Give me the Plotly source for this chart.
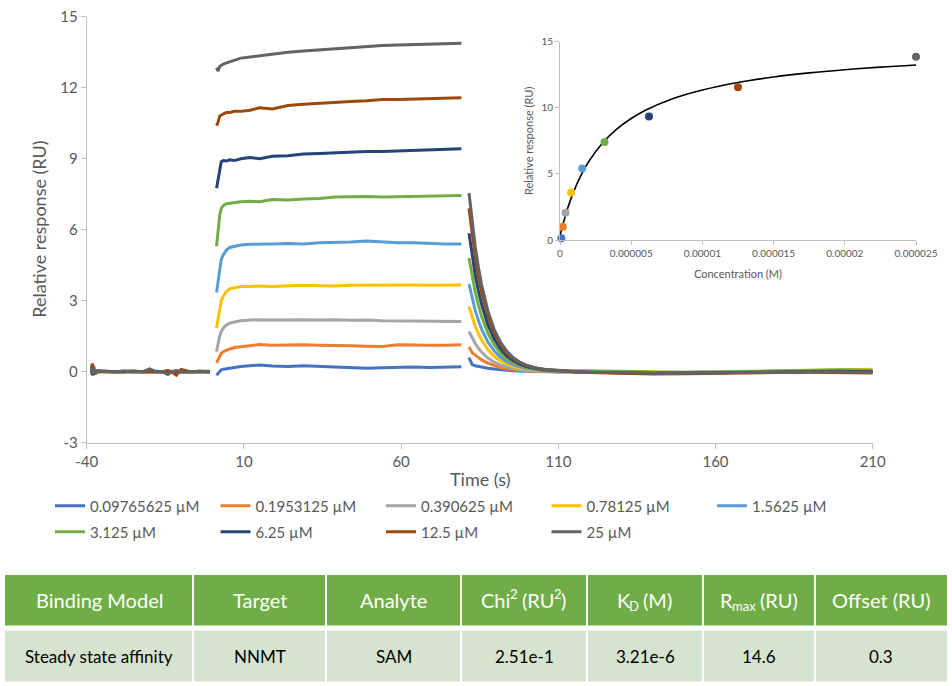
import plotly.graph_objects as go

# ---------------- data ----------------
series_names = ["0.09765625 µM", "0.1953125 µM", "0.390625 µM", "0.78125 µM", "1.5625 µM",
                "3.125 µM", "6.25 µM", "12.5 µM", "25 µM"]
series_colors = ["#4472C4", "#ED7D31", "#A5A5A5", "#FFC000", "#5B9BD5",
                 "#70AD47", "#264478", "#9E480E", "#636363"]

# time samples (s)
t_base = [-38.5, -38.2, -37.8, -37.3, -36.5, -34, -31, -28, -25, -22,
          -20, -18, -16, -14.2, -13, -11.5, -10, -7, -4, -0.9]
t_assoc = [1.3, 1.8, 2.3, 2.8, 3.5, 4.5, 5.5, 7, 9, 12, 15, 19, 24, 29, 34,
           39, 44, 49, 54, 59, 64, 69, 74, 79.2]
t_dissoc = [81.6, 82.6, 83.6, 84.6, 85.6, 87.6, 89.6, 91.6, 93.6, 95.6, 97.6,
            99.6, 102.6, 105.6, 109.6, 115, 120, 130, 140, 150, 160, 170, 180,
            190, 200, 210]
time_ticks = [-40, 10, 60, 110, 160, 210]
time_ticktext = ["-40", "10", "60", "110", "160", "210"]
resp_ticks = [-3, 0, 3, 6, 9, 12, 15]
resp_ticktext = ["-3", "0", "3", "6", "9", "12", "15"]

# responses (RU)
base_0098 = [0.05, 0.2, -0.1, 0.05, 0.0, 0.02, 0.0, 0.03, 0.02, 0.0, 0.05, 0.02, 0.0, 0.03, 0.0, 0.02, 0.0, 0.0, 0.02, 0.0]
base_0195 = [0.0, 0.15, -0.15, 0.05, 0.0, 0.0, 0.02, 0.0, 0.0, 0.02, 0.0, 0.0, 0.02, 0.0, 0.0, 0.0, 0.02, 0.0, 0.0, 0.0]
base_0391 = [0.1, -0.1, 0.15, 0.0, 0.02, 0.0, 0.0, 0.02, 0.0, 0.0, 0.02, 0.0, 0.0, -0.05, 0.02, 0.0, 0.0, 0.0, 0.02, 0.0]
base_0781 = [-0.05, 0.1, -0.1, 0.05, 0.0, 0.0, 0.03, 0.0, 0.0, 0.0, 0.0, 0.03, 0.0, 0.0, 0.02, 0.0, 0.0, 0.02, 0.0, 0.0]
base_1563 = [0.1, 0.25, -0.05, 0.0, 0.05, 0.02, 0.0, 0.0, 0.03, 0.0, 0.08, 0.0, 0.0, 0.0, 0.02, 0.0, 0.02, 0.0, 0.0, 0.0]
base_3125 = [0.0, 0.1, -0.1, 0.02, 0.0, 0.0, 0.0, 0.02, 0.0, 0.0, 0.0, 0.0, 0.02, 0.0, 0.0, 0.02, 0.0, 0.0, 0.0, 0.0]
base_6250 = [0.05, -0.15, 0.1, 0.0, 0.02, 0.0, 0.0, 0.0, 0.02, 0.0, 0.0, 0.02, 0.0, 0.0, 0.0, 0.0, 0.02, 0.0, 0.0, 0.0]
base_12500 = [0.15, 0.35, 0.05, -0.05, 0.0, 0.02, 0.0, 0.0, 0.0, 0.02, 0.0, 0.0, 0.0, 0.05, 0.0, -0.15, 0.1, 0.0, 0.02, 0.0]
base_25000 = [0.2, -0.1, 0.25, -0.1, 0.05, 0.0, 0.0, 0.02, 0.0, 0.0, 0.12, 0.0, 0.0, -0.12, 0.0, 0.05, 0.0, 0.0, 0.0, 0.02]

assoc_0098 = [-0.15, -0.08, 0.03, 0.08, 0.1, 0.13, 0.15, 0.18, 0.22, 0.25, 0.28, 0.24, 0.22, 0.25, 0.22, 0.2, 0.18, 0.15, 0.17, 0.2, 0.2, 0.18, 0.2, 0.21]
assoc_0195 = [0.37, 0.5, 0.65, 0.78, 0.85, 0.92, 0.96, 1.02, 1.05, 1.1, 1.15, 1.12, 1.14, 1.14, 1.12, 1.12, 1.1, 1.08, 1.06, 1.14, 1.12, 1.12, 1.12, 1.14]
assoc_0391 = [0.85, 1.2, 1.5, 1.7, 1.85, 1.98, 2.05, 2.1, 2.15, 2.18, 2.2, 2.18, 2.2, 2.2, 2.18, 2.2, 2.17, 2.18, 2.15, 2.15, 2.15, 2.12, 2.12, 2.12]
assoc_0781 = [1.85, 2.3, 2.7, 3.0, 3.2, 3.4, 3.5, 3.55, 3.6, 3.6, 3.62, 3.6, 3.62, 3.65, 3.63, 3.62, 3.65, 3.66, 3.64, 3.65, 3.66, 3.65, 3.66, 3.66]
assoc_1563 = [3.35, 3.9, 4.4, 4.75, 4.95, 5.15, 5.25, 5.3, 5.35, 5.38, 5.4, 5.4, 5.42, 5.4, 5.45, 5.45, 5.48, 5.52, 5.48, 5.45, 5.45, 5.42, 5.4, 5.4]
assoc_3125 = [5.3, 6.0, 6.6, 6.9, 7.03, 7.1, 7.12, 7.15, 7.18, 7.2, 7.18, 7.28, 7.25, 7.3, 7.32, 7.38, 7.4, 7.4, 7.38, 7.4, 7.42, 7.42, 7.45, 7.45]
assoc_6250 = [7.75, 8.1, 8.6, 8.87, 8.92, 8.9, 8.95, 8.92, 9.0, 9.05, 9.0, 9.1, 9.12, 9.2, 9.22, 9.25, 9.28, 9.3, 9.3, 9.32, 9.35, 9.35, 9.38, 9.42]
assoc_12500 = [10.4, 10.55, 10.8, 10.85, 10.9, 10.95, 10.95, 11.0, 11.0, 11.05, 11.15, 11.1, 11.25, 11.3, 11.35, 11.4, 11.42, 11.45, 11.5, 11.5, 11.52, 11.55, 11.55, 11.58]
assoc_25000 = [12.85, 12.7, 12.9, 12.95, 13.0, 13.05, 13.1, 13.15, 13.25, 13.3, 13.35, 13.4, 13.5, 13.55, 13.6, 13.65, 13.7, 13.75, 13.78, 13.8, 13.82, 13.85, 13.85, 13.88]

dissoc_0098 = [0.6, 0.3, 0.25, 0.22, 0.19, 0.15, 0.11, 0.08, 0.06, 0.04, 0.03, 0.02, 0.01, 0.0, -0.01,
               -0.01, -0.02, -0.05, -0.06, -0.05, -0.03, -0.02, -0.02, 0.0, 0.0, -0.02]
dissoc_0195 = [1.05, 0.8, 0.7, 0.58, 0.5, 0.36, 0.25, 0.17, 0.12, 0.08, 0.06, 0.04, 0.02, 0.01, 0.0,
               0.0, -0.02, -0.04, -0.06, -0.05, -0.03, -0.02, 0.0, 0.02, 0.02, 0.0]
dissoc_0391 = [1.7, 1.42, 1.19, 0.99, 0.83, 0.58, 0.4, 0.28, 0.2, 0.14, 0.09, 0.06, 0.04, 0.03, 0.02,
               0.02, 0.0, -0.03, -0.05, -0.04, -0.02, 0.0, 0.0, 0.02, 0.03, 0.02]
dissoc_0781 = [2.75, 2.3, 1.92, 1.6, 1.34, 0.94, 0.65, 0.45, 0.32, 0.22, 0.15, 0.11, 0.07, 0.05, 0.04,
               0.05, 0.05, 0.04, 0.0, -0.02, 0.0, 0.03, 0.05, 0.06, 0.1, 0.1]
dissoc_1563 = [3.7, 3.09, 2.58, 2.16, 1.8, 1.26, 0.88, 0.61, 0.43, 0.3, 0.21, 0.14, 0.09, 0.05, 0.03,
               0.03, 0.02, 0.0, -0.03, -0.03, -0.01, 0.0, 0.02, 0.03, 0.05, 0.04]
dissoc_3125 = [4.8, 4.01, 3.35, 2.8, 2.34, 1.63, 1.14, 0.79, 0.55, 0.38, 0.27, 0.19, 0.11, 0.06, 0.03,
               0.02, 0.0, -0.02, -0.04, -0.03, -0.02, 0.0, 0.03, 0.05, 0.08, 0.06]
dissoc_6250 = [5.85, 4.88, 4.08, 3.41, 2.85, 1.99, 1.39, 0.97, 0.67, 0.47, 0.33, 0.23, 0.13, 0.08, 0.04,
               0.0, -0.02, -0.05, -0.07, -0.06, -0.04, -0.02, -0.01, 0.0, 0.02, 0.0]
dissoc_12500 = [6.9, 5.76, 4.82, 4.02, 3.36, 2.35, 1.64, 1.14, 0.79, 0.55, 0.39, 0.27, 0.16, 0.09, 0.04,
                0.0, -0.03, -0.07, -0.1, -0.09, -0.06, -0.04, -0.03, -0.02, -0.02, -0.05]
dissoc_25000 = [7.55, 6.3, 5.27, 4.4, 3.68, 2.57, 1.79, 1.25, 0.87, 0.6, 0.42, 0.29, 0.17, 0.1, 0.05,
                0.01, -0.02, -0.05, -0.07, -0.06, -0.04, -0.02, -0.02, -0.01, 0.0, -0.02]

base_all = [base_0098, base_0195, base_0391, base_0781, base_1563, base_3125, base_6250, base_12500, base_25000]
assoc_all = [assoc_0098, assoc_0195, assoc_0391, assoc_0781, assoc_1563, assoc_3125, assoc_6250, assoc_12500, assoc_25000]
dissoc_all = [dissoc_0098, dissoc_0195, dissoc_0391, dissoc_0781, dissoc_1563, dissoc_3125, dissoc_6250, dissoc_12500, dissoc_25000]

# steady-state affinity inset
conc_uM = [0.09765625, 0.1953125, 0.390625, 0.78125, 1.5625, 3.125, 6.25, 12.5, 25]
steady_resp = [0.13, 1.0, 2.07, 3.6, 5.4, 7.41, 9.35, 11.55, 13.86]
fit_conc_uM = [0, 0.1, 0.25, 0.5, 1, 1.5, 2, 3, 4, 5, 6, 8, 10, 12.5, 15, 17.5, 20, 22.5, 25]
fit_resp = [0.30, 0.74, 1.35, 2.27, 3.77, 4.95, 5.90, 7.35, 8.40, 9.19, 9.81, 10.72, 11.35,
            11.92, 12.33, 12.64, 12.88, 13.08, 13.24]
inset_xticks = [0, 5e-6, 1e-5, 1.5e-5, 2e-5, 2.5e-5]
inset_xticktext = ["0", "0.000005", "0.00001", "0.000015", "0.00002", "0.000025"]

# table: each header is a list of (text, kind) pieces, kind n = normal, sub, sup
table_header = [
    [("Binding Model", "n")],
    [("Target", "n")],
    [("Analyte", "n")],
    [("Chi", "n"), ("2", "sup"), ("(RU", "n"), ("2", "sup"), (")", "n")],
    [("K", "n"), ("D", "sub"), ("(M)", "n")],
    [("R", "n"), ("max", "sub"), ("(RU)", "n")],
    [("Offset (RU)", "n")],
]
table_row = ["Steady state affinity", "NNMT", "SAM", "2.51e-1", "3.21e-6", "14.6", "0.3"]

# ---------------- figure ----------------
W, H = 952, 686
FONT = "Lato, 'Open Sans', sans-serif"
GREY = "#595959"
AXIS = "#BFBFBF"

def px(xp):
    return xp / W

def py(yp):
    return 1 - yp / H

fig = go.Figure()

for i, name in enumerate(series_names):
    xs = t_base + [None] + t_assoc + [None] + t_dissoc
    ys = base_all[i] + [None] + assoc_all[i] + [None] + dissoc_all[i]
    fig.add_trace(go.Scatter(
        x=xs, y=ys, mode="lines", name=name,
        line=dict(color=series_colors[i], width=3),
        connectgaps=False,
        legend="legend" if i < 5 else "legend2",
        xaxis="x", yaxis="y"))

fig.add_trace(go.Scatter(
    x=[c * 1e-6 for c in fit_conc_uM], y=fit_resp, mode="lines",
    line=dict(color="black", width=1.6, shape="spline"),
    showlegend=False, xaxis="x2", yaxis="y2", cliponaxis=False))
fig.add_trace(go.Scatter(
    x=[c * 1e-6 for c in conc_uM], y=steady_resp, mode="markers",
    marker=dict(color=series_colors, size=8),
    showlegend=False, xaxis="x2", yaxis="y2", cliponaxis=False))

axis_common = dict(showgrid=False, zeroline=False, showline=True, linecolor=AXIS,
                   linewidth=1, ticks="outside", tickcolor=AXIS, automargin=False)

legend_common = dict(orientation="h", x=px(50), xanchor="left", yanchor="middle",
                     entrywidth=120.5, entrywidthmode="pixels", bgcolor="rgba(0,0,0,0)",
                     font=dict(size=15, color=GREY, family=FONT), traceorder="normal")

fig.update_layout(
    width=W, height=H, template="none",
    margin=dict(l=0, r=0, t=0, b=0),
    paper_bgcolor="white", plot_bgcolor="rgba(0,0,0,0)",
    font=dict(family=FONT, color=GREY),
    xaxis=dict(domain=[px(86.7), px(872.7)], range=[-40, 210],
               tickvals=time_ticks, ticktext=time_ticktext, ticklen=5,
               tickfont=dict(size=15, color=GREY), anchor="y", **axis_common),
    yaxis=dict(domain=[py(442.7), py(16.7)], range=[-3, 15],
               tickvals=resp_ticks, ticktext=resp_ticktext, ticklen=5,
               tickfont=dict(size=15, color=GREY), anchor="x", **axis_common),
    xaxis2=dict(domain=[px(560), px(916)], range=[0, 2.5e-5],
                tickvals=inset_xticks, ticktext=inset_xticktext, ticklen=4,
                tickfont=dict(size=10, color=GREY), anchor="y2", **axis_common),
    yaxis2=dict(domain=[py(240), py(41.7)], range=[0, 15],
                tickvals=[0, 5, 10, 15], ticklen=4,
                tickfont=dict(size=10, color=GREY), anchor="x2", **axis_common),
    legend=dict(y=py(506), **legend_common),
    legend2=dict(y=py(532), **legend_common),
    showlegend=True,
)

annotations = [
    dict(text="Time (s)", x=px(480), y=py(479), xref="paper", yref="paper",
         showarrow=False, font=dict(size=18, color=GREY, family=FONT),
         xanchor="center", yanchor="middle"),
    dict(text="Relative response (RU)", x=px(39), y=py(229.7), xref="paper", yref="paper",
         showarrow=False, textangle=-90, font=dict(size=18, color=GREY, family=FONT),
         xanchor="center", yanchor="middle"),
    dict(text="Concentration (M)", x=px(738), y=py(274), xref="paper", yref="paper",
         showarrow=False, font=dict(size=11, color=GREY, family=FONT),
         xanchor="center", yanchor="middle"),
    dict(text="Relative response (RU)", x=px(528), y=py(141), xref="paper", yref="paper",
         showarrow=False, textangle=-90, font=dict(size=11, color=GREY, family=FONT),
         xanchor="center", yanchor="middle"),
]

# approximate Lato advance widths (em) for the split header pieces
glyph_em = {"K": 0.62, "D": 0.73, "R": 0.60, "m": 0.86, "a": 0.50, "x": 0.49,
            "(": 0.30, ")": 0.30, "M": 0.90, "U": 0.70, " ": 0.19, "C": 0.66,
            "h": 0.56, "i": 0.23, "2": 0.58}

def text_w(s, size):
    return sum(glyph_em.get(ch, 0.55) for ch in s) * size

HEAD_SIZE, SMALL_SIZE, BODY_SIZE = 20, 13, 17
SPACE_BEFORE_PAREN = 4

col_edges = [5, 193, 326, 461, 587, 703, 815, 947]
head_y = (575, 625.5)
body_y = (630.5, 681.5)
shapes = []
for j in range(len(table_header)):
    x0 = col_edges[j] + (0 if j == 0 else 1)
    x1 = col_edges[j + 1] - (0 if j == len(table_header) - 1 else 1)
    shapes.append(dict(type="rect", xref="paper", yref="paper",
                       x0=px(x0), x1=px(x1), y0=py(head_y[1]), y1=py(head_y[0]),
                       fillcolor="#70AD47", line=dict(width=0), layer="below"))
    shapes.append(dict(type="rect", xref="paper", yref="paper",
                       x0=px(x0), x1=px(x1), y0=py(body_y[1]), y1=py(body_y[0]),
                       fillcolor="#D6E3CF", line=dict(width=0), layer="below"))
    cx = (col_edges[j] + col_edges[j + 1]) / 2
    hy = sum(head_y) / 2
    pieces = table_header[j]
    if len(pieces) == 1:
        annotations.append(dict(text=pieces[0][0], x=px(cx), y=py(hy), xref="paper",
                                yref="paper", showarrow=False,
                                font=dict(size=HEAD_SIZE, color="white", family=FONT),
                                xanchor="center", yanchor="middle"))
    else:
        widths = []
        for k, (txt, kind) in enumerate(pieces):
            size = HEAD_SIZE if kind == "n" else SMALL_SIZE
            w = text_w(txt, size)
            if txt.startswith("("):
                w += SPACE_BEFORE_PAREN
            widths.append(w)
        cur = cx - sum(widths) / 2
        for k, (txt, kind) in enumerate(pieces):
            size = HEAD_SIZE if kind == "n" else SMALL_SIZE
            xpos = cur + (SPACE_BEFORE_PAREN if txt.startswith("(") else 0)
            dy = 6 if kind == "sub" else (-6 if kind == "sup" else 0)
            annotations.append(dict(text=txt, x=px(xpos), y=py(hy + dy), xref="paper",
                                    yref="paper", showarrow=False,
                                    font=dict(size=size, color="white", family=FONT),
                                    xanchor="left", yanchor="middle", xshift=-2))
            cur += widths[k]
    annotations.append(dict(text=table_row[j], x=px(cx), y=py(sum(body_y) / 2),
                            xref="paper", yref="paper", showarrow=False,
                            font=dict(size=BODY_SIZE, color="black", family=FONT),
                            xanchor="center", yanchor="middle"))

fig.update_layout(annotations=annotations, shapes=shapes)

fig.write_html("out.html", config={"displayModeBar": False},
               post_script="document.body.style.margin='0px';"
                           "document.body.style.overflow='hidden';")
